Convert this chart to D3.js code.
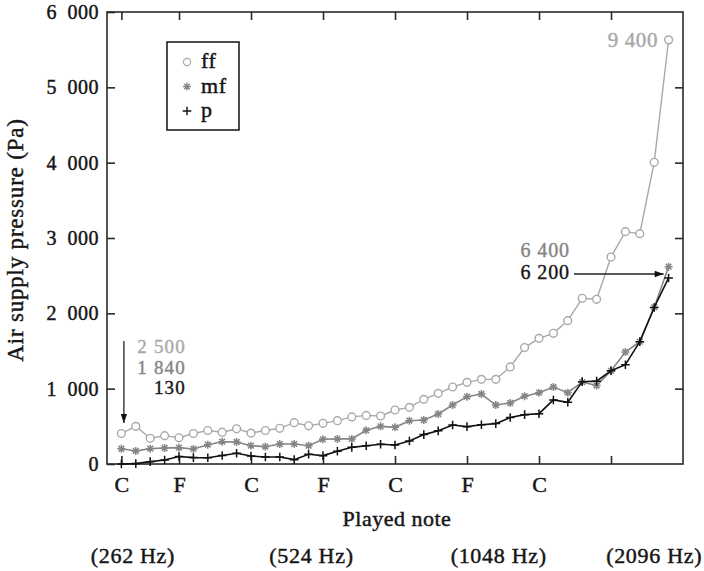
<!DOCTYPE html>
<html>
<head>
<meta charset="utf-8">
<script src="https://cdn.jsdelivr.net/npm/d3@7"></script>
<style>
  html, body { margin: 0; padding: 0; background: #fff; }
  svg { display: block; font-family: "Liberation Serif", "Times New Roman", serif; }
  text { paint-order: stroke; }
</style>
</head>
<body>
<svg id="chart" width="704" height="571"></svg>
<script>
// Played notes along the x axis (one point per note, 39 notes)
const noteLabels = ["C", "F", "C", "F", "C", "F", "C", ""];
const noteTickIndex = [0, 4, 9, 14, 19, 24, 29, 34];
const freqLabels = ["(262 Hz)", "(524 Hz)", "(1048 Hz)", "(2096 Hz)"];
const freqLabelAt = [0.8, 13.2, 26.2, 37.0];
const pressureTicks = [0, 1000, 2000, 3000, 4000, 5000, 6000];

// Air supply pressure (Pa) per dynamic level
const ff = [405, 500, 341, 376, 348, 405, 445, 422, 467, 410, 445, 474, 548, 507, 540, 575,
            625, 645, 637, 717, 752, 858, 938, 1022, 1084, 1124, 1124, 1288, 1546, 1668,
            1735, 1903, 2200, 2186, 2748, 3084, 3058, 4005, 5630];
const mf = [202, 173, 204, 212, 217, 200, 256, 296, 292, 243, 230, 265, 266, 243, 328, 333,
            333, 447, 500, 487, 575, 584, 664, 783, 894, 929, 783, 810, 900, 947,
            1022, 947, 1088, 1042, 1237, 1487, 1624, 2078, 2619];
const p  = [0, 5, 31, 53, 100, 85, 82, 112, 142, 106, 93, 93, 58, 130, 111, 170,
            221, 243, 263, 252, 305, 390, 440, 518, 496, 522, 536, 618, 655, 668,
            850, 819, 1093, 1100, 1237, 1318, 1624, 2078, 2470];

const seriesNames = ["ff", "mf", "p"];
const seriesValues = [ff, mf, p];
const seriesColors = ["#a9a9a9", "#858585", "#111111"];
const seriesMarkers = ["circle", "asterisk", "plus"];

// Annotation texts
const leftNotes = ["2 500", "1 840", "130"];
const rightNotes = ["6 400", "6 200"];
const topNote = "9 400";

const svg = d3.select("#chart");
const plotLeft = 107, plotRight = 683, plotTop = 12, plotBottom = 464;

const x = d3.scaleLinear().domain([-1, 39]).range([plotLeft, plotRight]);
const y = d3.scaleLinear().domain([0, 6000]).range([plotBottom, plotTop]);

const axisColor = "#2a2a2a";
const ink = "#151515";
const fmtPa = d => d === 0 ? "0" : d3.format(",")(d).replace(",", "\u2007");

// slightly heavier type
function heavy(sel, color) {
  return sel.attr("fill", color).attr("stroke", color).attr("stroke-width", 0.45);
}

// frame
svg.append("rect")
  .attr("x", plotLeft).attr("y", plotTop)
  .attr("width", plotRight - plotLeft).attr("height", plotBottom - plotTop)
  .attr("fill", "none").attr("stroke", axisColor).attr("stroke-width", 1.6);

// left axis
const yAxis = svg.append("g").attr("transform", `translate(${plotLeft},0)`)
  .call(d3.axisLeft(y).tickValues(pressureTicks).tickFormat(fmtPa).tickSize(-8).tickPadding(8));
// right axis (ticks only)
svg.append("g").attr("transform", `translate(${plotRight},0)`)
  .call(d3.axisRight(y).tickValues(pressureTicks.slice(1, -1)).tickFormat("").tickSize(-8));
// bottom axis
const xAxis = svg.append("g").attr("transform", `translate(0,${plotBottom})`)
  .call(d3.axisBottom(x).tickValues(noteTickIndex).tickFormat((d, i) => noteLabels[i]).tickSize(-8).tickPadding(12));
// top axis (ticks only)
svg.append("g").attr("transform", `translate(0,${plotTop})`)
  .call(d3.axisTop(x).tickValues(noteTickIndex).tickFormat("").tickSize(-8));

svg.selectAll(".domain").remove();
svg.selectAll(".tick line").attr("stroke", axisColor).attr("stroke-width", 1.6);
heavy(yAxis.selectAll("text"), ink)
  .attr("font-size", 20).attr("letter-spacing", 0.5)
  .style("font-family", "Liberation Serif");
heavy(xAxis.selectAll("text"), ink)
  .attr("font-size", 22)
  .style("font-family", "Liberation Serif");

// axis titles
heavy(svg.append("text"), ink)
  .attr("transform", `translate(23,${(plotTop + plotBottom) / 2 + 2}) rotate(-90)`)
  .attr("text-anchor", "middle").attr("font-size", 23).attr("letter-spacing", 0.8)
  .text("Air supply pressure (Pa)");
heavy(svg.append("text"), ink)
  .attr("x", (plotLeft + plotRight) / 2 + 2).attr("y", 526)
  .attr("text-anchor", "middle").attr("font-size", 22).attr("letter-spacing", 0.5)
  .text("Played note");
heavy(svg.selectAll(".freq").data(freqLabels).join("text"), ink)
  .attr("class", "freq")
  .attr("x", (d, i) => x(freqLabelAt[i])).attr("y", 563)
  .attr("text-anchor", "middle").attr("font-size", 22).attr("letter-spacing", 0.7)
  .text(d => d);

// marker path builders
function markerPath(kind) {
  if (kind === "plus") {
    const s = 4.3;
    return `M${-s},0H${s}M0,${-s}V${s}`;
  }
  if (kind === "asterisk") {
    const s = 4.0, d = s * 0.72;
    return `M${-s},0H${s}M0,${-s}V${s}M${-d},${-d}L${d},${d}M${-d},${d}L${d},${-d}`;
  }
  return null;
}

const line = d3.line().x((d, i) => x(i)).y(d => y(d));

seriesValues.forEach((vals, k) => {
  const g = svg.append("g").attr("class", "series-" + seriesNames[k]);
  g.append("path").datum(vals)
    .attr("d", line).attr("fill", "none")
    .attr("stroke", seriesColors[k]).attr("stroke-width", k === 0 ? 1.4 : 1.6);
  if (seriesMarkers[k] === "circle") {
    g.selectAll("circle").data(vals).join("circle")
      .attr("cx", (d, i) => x(i)).attr("cy", d => y(d)).attr("r", 3.9)
      .attr("fill", "#fff").attr("stroke", seriesColors[k]).attr("stroke-width", 1.4);
  } else {
    g.selectAll("path.m").data(vals).join("path").attr("class", "m")
      .attr("transform", (d, i) => `translate(${x(i)},${y(d)})`)
      .attr("d", markerPath(seriesMarkers[k]))
      .attr("fill", "none").attr("stroke", seriesColors[k]).attr("stroke-width", 1.5);
  }
});

// legend
const lg = svg.append("g").attr("transform", "translate(167,42)");
lg.append("rect").attr("width", 72).attr("height", 88)
  .attr("fill", "#fff").attr("stroke", "#111").attr("stroke-width", 1.5);
seriesNames.forEach((name, k) => {
  const cy = 20 + k * 24.5;
  if (seriesMarkers[k] === "circle") {
    lg.append("circle").attr("cx", 20).attr("cy", cy).attr("r", 3.6)
      .attr("fill", "#fff").attr("stroke", seriesColors[k]).attr("stroke-width", 1.2);
  } else {
    lg.append("path").attr("transform", `translate(20,${cy})`)
      .attr("d", markerPath(seriesMarkers[k]))
      .attr("fill", "none").attr("stroke", seriesColors[k]).attr("stroke-width", 1.4);
  }
  heavy(lg.append("text"), ink).attr("x", 34).attr("y", cy + 6)
    .attr("font-size", 22).attr("letter-spacing", 0.6).text(name);
});

// arrowheads
const defs = svg.append("defs");
defs.append("marker").attr("id", "arrow").attr("viewBox", "0 0 10 10")
  .attr("refX", 10).attr("refY", 5).attr("markerWidth", 10).attr("markerHeight", 9)
  .attr("markerUnits", "userSpaceOnUse").attr("orient", "auto")
  .append("path").attr("d", "M0,1.5L10,5L0,8.5Z").attr("fill", "#111");

// left annotation: first note
const leftColors = [seriesColors[0], seriesColors[1], ink];
svg.append("line")
  .attr("x1", x(0) + 2.5).attr("x2", x(0) + 2.5)
  .attr("y1", 341).attr("y2", 423)
  .attr("stroke", "#222").attr("stroke-width", 1.3).attr("marker-end", "url(#arrow)");
svg.selectAll(".lnote").data(leftNotes).join("text").attr("class", "lnote")
  .attr("x", 186).attr("y", (d, i) => 353 + i * 20.5)
  .attr("text-anchor", "end").attr("font-size", 19).attr("letter-spacing", 1.2)
  .attr("fill", (d, i) => leftColors[i]).attr("stroke", (d, i) => leftColors[i]).attr("stroke-width", 0.4)
  .text(d => d);

// right annotation: last note
const rightColors = [seriesColors[1], ink];
svg.selectAll(".rnote").data(rightNotes).join("text").attr("class", "rnote")
  .attr("x", 570).attr("y", (d, i) => 257 + i * 22)
  .attr("text-anchor", "end").attr("font-size", 20).attr("letter-spacing", 0.9)
  .attr("fill", (d, i) => rightColors[i]).attr("stroke", (d, i) => rightColors[i]).attr("stroke-width", 0.4)
  .text(d => d);
svg.append("line")
  .attr("x1", 574).attr("x2", x(38) - 5)
  .attr("y1", 274).attr("y2", 274)
  .attr("stroke", "#222").attr("stroke-width", 1.3).attr("marker-end", "url(#arrow)");

// top annotation: highest ff value
heavy(svg.append("text"), seriesColors[0])
  .attr("x", 658).attr("y", 47)
  .attr("text-anchor", "end").attr("font-size", 21).attr("letter-spacing", 0.6)
  .text(topNote);
</script>
</body>
</html>
